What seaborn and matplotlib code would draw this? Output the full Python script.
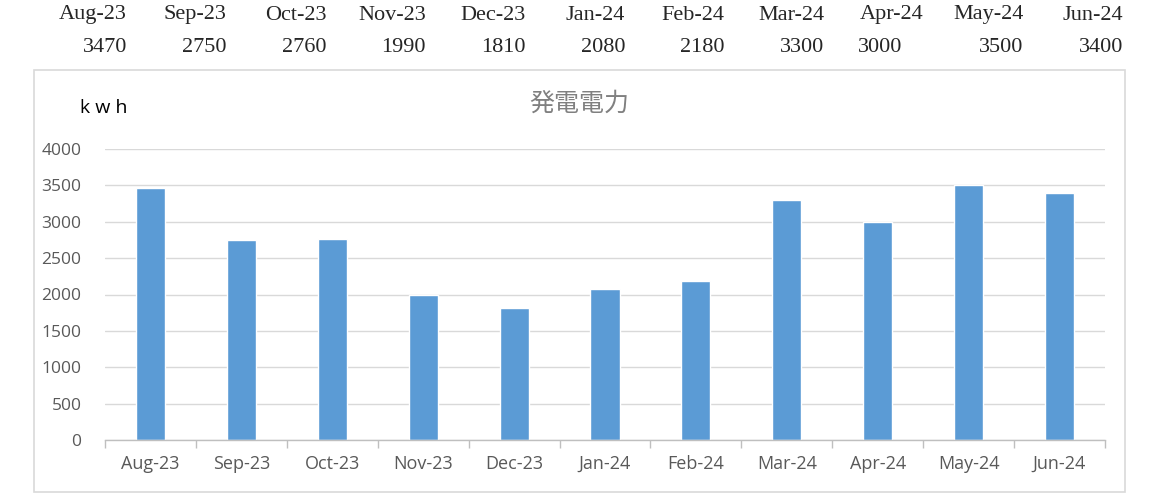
import matplotlib
matplotlib.use("Agg")
import matplotlib.pyplot as plt
import seaborn as sns
import pandas as pd
from matplotlib.patches import Rectangle

months = ["Aug-23", "Sep-23", "Oct-23", "Nov-23", "Dec-23", "Jan-24",
          "Feb-24", "Mar-24", "Apr-24", "May-24", "Jun-24"]
power = [3470, 2750, 2760, 1990, 1810, 2080, 2180, 3300, 3000, 3500, 3400]
yticks = [0, 500, 1000, 1500, 2000, 2500, 3000, 3500, 4000]
title = "発電電力"
unit = "k w h"

df = pd.DataFrame({"month": months, "kwh": power})

sns.set_theme(style="white")
plt.rcParams["font.family"] = ["Noto Sans CJK JP", "DejaVu Sans"]

fig = plt.figure(figsize=(11.7, 4.93), dpi=100)
ax = fig.add_axes([105 / 1170, 53 / 493, 1000 / 1170, 291 / 493])

sns.barplot(data=df, x="month", y="kwh", color="#5b9bd5", width=0.32,
            saturation=1, ax=ax)

ax.set_xlim(-0.5, len(months) - 0.5)
ax.set_ylim(0, 4000)
ax.set_yticks(yticks)
ax.set_xlabel("")
ax.set_ylabel("")
ax.grid(axis="y", color="#d9d9d9", linewidth=1)
ax.set_axisbelow(True)
for s in ["top", "right", "left"]:
    ax.spines[s].set_visible(False)
ax.spines["bottom"].set_color("#bfbfbf")
ax.spines["bottom"].set_linewidth(1)

# tick marks between categories, like a spreadsheet chart
ax.set_xticks([i - 0.5 for i in range(len(months) + 1)], minor=True)
ax.tick_params(axis="x", which="minor", length=6, color="#bfbfbf", width=1,
               bottom=True)
ax.tick_params(axis="x", which="major", length=0, pad=11,
               labelsize=13, labelcolor="#595959")
ax.tick_params(axis="y", length=0, pad=17, labelsize=12.5,
               labelcolor="#595959")
for lab in ax.get_xticklabels() + ax.get_yticklabels():
    lab.set_family(["Open Sans", "DejaVu Sans"])

# chart border
fig.patches.append(Rectangle((34 / 1170, 1 / 493), 1091 / 1170, 422 / 493,
                             transform=fig.transFigure, fill=False,
                             edgecolor="#d9d9d9", linewidth=1.2))

fig.text(579 / 1170, 1 - 104 / 493, title, ha="center", va="center",
         fontsize=18, color="#808080")
fig.text(80 / 1170, 1 - 108 / 493, unit, ha="left", va="center",
         fontsize=14, color="#000000", family=["Open Sans", "DejaVu Sans"])

# header table above the chart
serif = ["Liberation Serif", "DejaVu Serif"]
for i, (m, v) in enumerate(zip(months, power)):
    xr = (127 + 99.6 * i) / 1170
    fig.text(xr, 1 - 15 / 493, m, ha="right", va="center", fontsize=16,
             family=serif)
    if m == "Apr-24":
        fig.text(858 / 1170, 1 - 48 / 493, str(v), ha="left", va="center",
                 fontsize=16, family=serif)
    else:
        fig.text(xr, 1 - 48 / 493, str(v), ha="right", va="center",
                 fontsize=16, family=serif)

fig.savefig("out.png", dpi=100)
